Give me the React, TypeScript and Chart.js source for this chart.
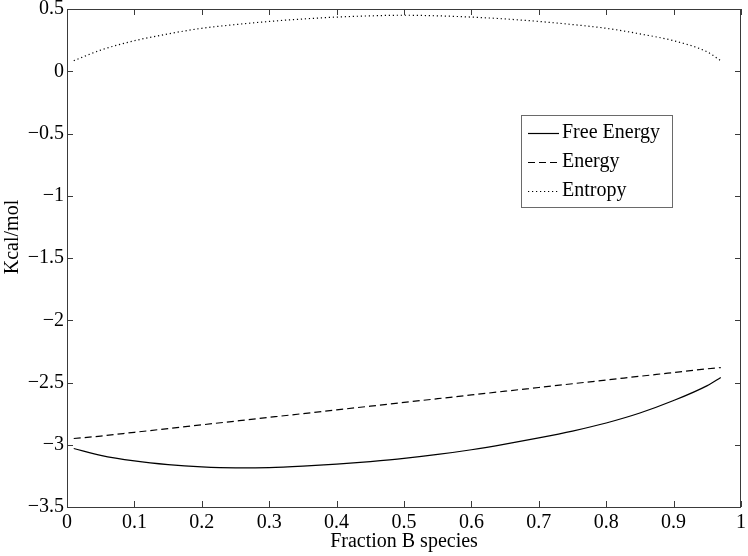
import React, { useEffect, useRef } from "react";
import { Chart, registerables } from "chart.js";

Chart.register(...registerables);

const xValues = [0.01, 0.05, 0.1, 0.15, 0.2, 0.25, 0.3, 0.35, 0.4, 0.45, 0.5, 0.55, 0.6, 0.65, 0.7, 0.75, 0.8, 0.85, 0.9, 0.95, 0.97];
const freeEnergy = [-3.03, -3.085, -3.13, -3.16, -3.178, -3.185, -3.183, -3.172, -3.156, -3.135, -3.11, -3.078, -3.04, -2.995, -2.945, -2.89, -2.825, -2.745, -2.645, -2.525, -2.46];
const energy = [-2.95, -2.93, -2.9, -2.87, -2.84, -2.81, -2.78, -2.75, -2.72, -2.69, -2.66, -2.63, -2.6, -2.57, -2.54, -2.51, -2.48, -2.45, -2.42, -2.39, -2.38];
const entropy = [0.085, 0.17, 0.245, 0.3, 0.345, 0.375, 0.4, 0.42, 0.435, 0.445, 0.45, 0.445, 0.435, 0.42, 0.4, 0.375, 0.345, 0.3, 0.245, 0.155, 0.085];

const seriesNames = ["Free Energy", "Energy", "Entropy"];
const xTickValues = [0, 0.1, 0.2, 0.3, 0.4, 0.5, 0.6, 0.7, 0.8, 0.9, 1];
const xTickLabels = ["0", "0.1", "0.2", "0.3", "0.4", "0.5", "0.6", "0.7", "0.8", "0.9", "1"];
const yTickValues = [-3.5, -3, -2.5, -2, -1.5, -1, -0.5, 0, 0.5];
const yTickLabels = ["\u22123.5", "\u22123", "\u22122.5", "\u22122", "\u22121.5", "\u22121", "\u22120.5", "0", "0.5"];
const xTitle = "Fraction B species";
const yTitle = "Kcal/mol";

const FONT = "'Liberation Serif', 'Times New Roman', serif";

export default function App() {
  const ref = useRef<HTMLCanvasElement | null>(null);

  useEffect(() => {
    const canvas = ref.current;
    if (!canvas) return;

    const dashes = [[], [7, 4], [1.2, 2.8]];

    const framePlugin = {
      id: "frame",
      afterDraw(chart: any) {
        const { ctx, chartArea, scales } = chart;
        const { left, right, top, bottom } = chartArea;
        ctx.save();
        ctx.strokeStyle = "#3a3a3a";
        ctx.lineWidth = 1;
        ctx.setLineDash([]);
        ctx.strokeRect(Math.round(left) + 0.5, Math.round(top) + 0.5, Math.round(right - left) - 1, Math.round(bottom - top));
        const tl = 6;
        ctx.beginPath();
        xTickValues.forEach((v) => {
          const x = Math.round(scales.x.getPixelForValue(v)) + 0.5;
          ctx.moveTo(x, bottom);
          ctx.lineTo(x, bottom - tl);
          ctx.moveTo(x, top);
          ctx.lineTo(x, top + tl);
        });
        yTickValues.forEach((v) => {
          const y = Math.round(scales.y.getPixelForValue(v)) + 0.5;
          ctx.moveTo(left, y);
          ctx.lineTo(left + tl, y);
          ctx.moveTo(right, y);
          ctx.lineTo(right - tl, y);
        });
        ctx.stroke();

        // y title
        ctx.fillStyle = "#000";
        ctx.font = `20px ${FONT}`;
        ctx.textAlign = "center";
        ctx.textBaseline = "middle";
        ctx.save();
        ctx.translate(13, 237);
        ctx.rotate(-Math.PI / 2);
        ctx.fillText(yTitle, 0, 0);
        ctx.restore();

        // legend
        const bx = 521, by = 115, bw = 151, bh = 92;
        ctx.fillStyle = "#fff";
        ctx.fillRect(bx, by, bw, bh);
        ctx.strokeStyle = "#6a6a6a";
        ctx.strokeRect(bx + 0.5, by + 0.5, bw, bh);
        const rows = [133, 162, 191];
        seriesNames.forEach((name, i) => {
          ctx.strokeStyle = "#000";
          ctx.lineWidth = 1.2;
          ctx.setLineDash(dashes[i]);
          ctx.beginPath();
          ctx.moveTo(528, rows[i] + 0.5);
          ctx.lineTo(559, rows[i] + 0.5);
          ctx.stroke();
          ctx.setLineDash([]);
          ctx.fillStyle = "#000";
          ctx.textAlign = "left";
          ctx.textBaseline = "middle";
          ctx.fillText(name, 562, rows[i]);
        });
        ctx.restore();
      },
    };

    const mk = (data: number[], i: number) => ({
      label: seriesNames[i],
      data: xValues.map((x, k) => ({ x, y: data[k] })),
      borderColor: "#000",
      borderWidth: 1.2,
      borderDash: dashes[i],
      pointRadius: 0,
      fill: false,
      cubicInterpolationMode: "monotone" as const,
    });

    const chart = new Chart(canvas, {
      type: "line",
      data: {
        datasets: [mk(freeEnergy, 0), mk(energy, 1), mk(entropy, 2)],
      },
      plugins: [framePlugin],
      options: {
        responsive: false,
        animation: false,
        layout: { padding: { left: 0, top: 9, right: 7, bottom: 0 } },
        plugins: { legend: { display: false }, tooltip: { enabled: false } },
        scales: {
          x: {
            type: "linear",
            min: 0,
            max: 1,
            grid: { display: false, drawTicks: false },
            border: { display: false },
            afterBuildTicks: (s: any) => {
              s.ticks = xTickValues.map((v) => ({ value: v }));
            },
            afterFit: (s: any) => {
              s.height = 49;
              s.paddingLeft = 0;
              s.paddingRight = 0;
            },
            ticks: {
              color: "#000",
              font: { family: FONT, size: 20 },
              padding: 4,
              maxRotation: 0,
              autoSkip: false,
              callback: (_v: any, i: number) => xTickLabels[i],
            },
            title: {
              display: true,
              text: xTitle,
              color: "#000",
              font: { family: FONT, size: 20 },
              padding: { top: 0, bottom: 2 },
            },
          },
          y: {
            type: "linear",
            min: -3.5,
            max: 0.5,
            grid: { display: false, drawTicks: false },
            border: { display: false },
            afterBuildTicks: (s: any) => {
              s.ticks = yTickValues.map((v) => ({ value: v }));
            },
            afterFit: (s: any) => {
              s.width = 67;
              s.paddingTop = 0;
              s.paddingBottom = 0;
            },
            ticks: {
              color: "#000",
              font: { family: FONT, size: 20 },
              padding: 3,
              autoSkip: false,
              callback: (_v: any, i: number) => yTickLabels[i],
            },
          },
        },
      },
    });

    return () => chart.destroy();
  }, []);

  return (
    <div style={{ position: "absolute", left: 0, top: 0, width: 748, height: 556, background: "#fff" }}>
      <canvas ref={ref} width={748} height={556} style={{ display: "block" }} />
    </div>
  );
}
